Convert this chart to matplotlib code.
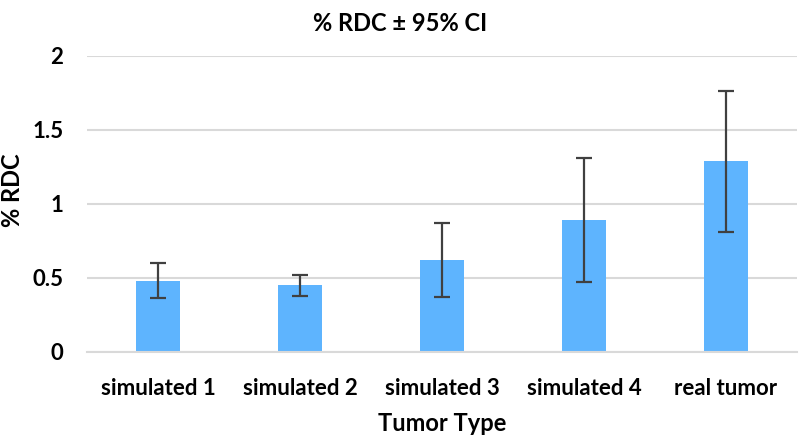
import numpy as np
import matplotlib.pyplot as plt

plt.rcParams['font.family'] = ['Lato', 'DejaVu Sans']

# data
categories = ["simulated 1", "simulated 2", "simulated 3", "simulated 4", "real tumor"]
rdc = [0.48, 0.45, 0.62, 0.89, 1.29]
ci_low = [0.36, 0.38, 0.37, 0.47, 0.81]
ci_high = [0.60, 0.52, 0.87, 1.31, 1.76]

x = np.arange(len(categories))
err = [np.array(rdc) - np.array(ci_low), np.array(ci_high) - np.array(rdc)]

fig = plt.figure(figsize=(8, 4.37), dpi=100)
ax = fig.add_axes([0.10875, 0.195, 0.8875, 0.6775])

ax.bar(x, rdc, width=0.315, color="#5eb4fe", zorder=2)
ax.errorbar(x, rdc, yerr=err, fmt="none", ecolor="#404040", elinewidth=1.6,
            capsize=6, capthick=1.6, zorder=3)

ax.set_xlim(-0.5, len(categories) - 0.5)
ax.set_ylim(0, 2)
ax.set_yticks([0, 0.5, 1, 1.5, 2])
ax.set_yticklabels(["0", "0.5", "1", "1.5", "2"])
ax.set_xticks(x)
ax.set_xticklabels(categories)
ax.tick_params(length=0, labelsize=16)
ax.tick_params(axis="x", pad=19)
ax.tick_params(axis="y", pad=17)
for lab in ax.get_xticklabels() + ax.get_yticklabels():
    lab.set_fontweight("bold")
ax.yaxis.grid(True, color="#d9d9d9", linewidth=1.5, zorder=0)
for s in ["top", "right", "left"]:
    ax.spines[s].set_visible(False)
ax.spines["bottom"].set_color("#d9d9d9")
ax.spines["bottom"].set_linewidth(1.5)

ax.set_xlabel("Tumor Type", fontsize=17, fontweight="bold", labelpad=9)
fig.text(0.016, 1 - 190 / 437, "% RDC", fontsize=17, fontweight="bold",
         rotation=90, ha="center", va="center")
fig.text(0.5, 0.946, "% RDC ± 95% CI", fontsize=17, fontweight="bold",
         ha="center", va="center")

plt.savefig("out.png", dpi=100)
